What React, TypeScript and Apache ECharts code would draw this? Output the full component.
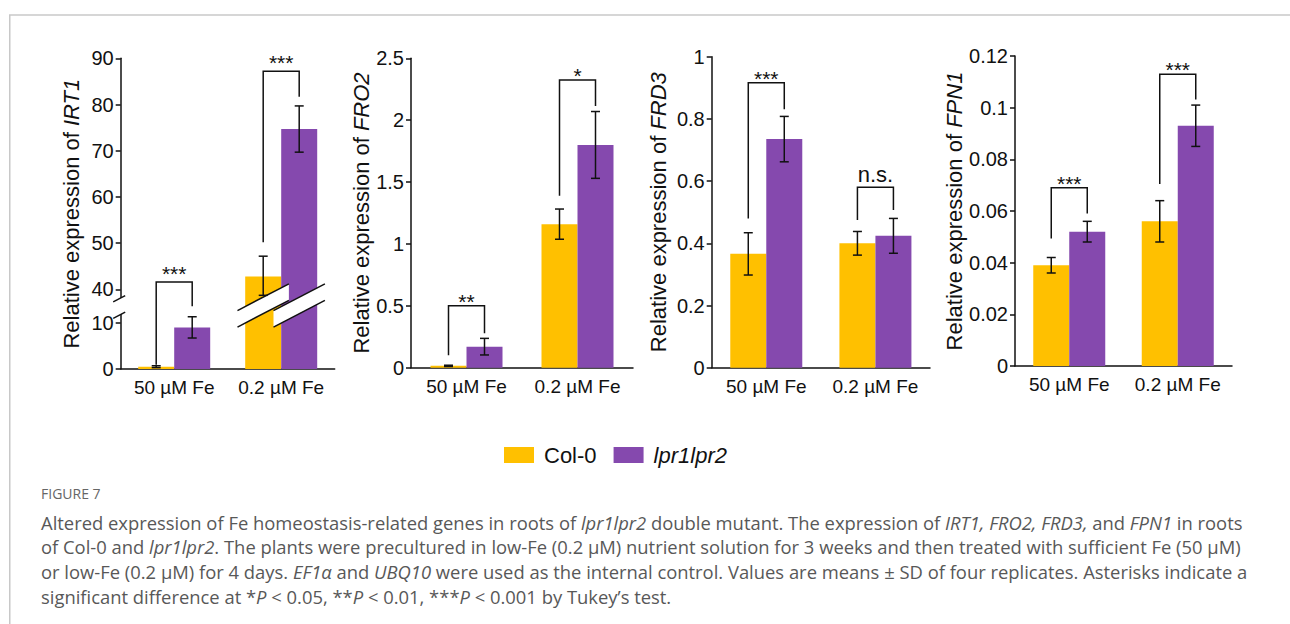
import React, { useEffect, useRef } from 'react';
import * as echarts from 'echarts';

// ---------------- data ----------------
const groups = ['50 µM Fe', '0.2 µM Fe'];
const genotypes = ['Col-0', 'lpr1lpr2'];

// IRT1
const irt1Col0 = [0.5, 42.8];
const irt1Col0Sd = [0.2, 4.4];
const irt1Lpr = [9.0, 74.7];
const irt1LprSd = [2.3, 5.0];
const irt1Sig = ['***', '***'];
const irt1BracketTop = [41.6, 87.2];
const irt1BracketLeft = [0.9, 50.2];
const irt1BracketRight = [24, 81.7];
const irt1Ticks = [0, 10, 40, 50, 60, 70, 80, 90];
const irt1BreakLow = 11.5;
const irt1BreakHigh = 38.8;

// FRO2
const fro2Col0 = [0.015, 1.16];
const fro2Col0Sd = [0.005, 0.122];
const fro2Lpr = [0.17, 1.8];
const fro2LprSd = [0.067, 0.27];
const fro2Sig = ['**', '*'];
const fro2BracketTop = [0.5, 2.325];
const fro2BracketLeft = [0.1, 1.39];
const fro2BracketRight = [0.278, 2.115];
const fro2Ticks = [0, 0.5, 1, 1.5, 2, 2.5];

// FRD3
const frd3Col0 = [0.366, 0.4];
const frd3Col0Sd = [0.068, 0.038];
const frd3Lpr = [0.735, 0.424];
const frd3LprSd = [0.073, 0.056];
const frd3Sig = ['***', 'n.s.'];
const frd3BracketTop = [0.916, 0.58];
const frd3BracketLeft = [0.48, 0.475];
const frd3BracketRight = [0.831, 0.507];
const frd3Ticks = [0, 0.2, 0.4, 0.6, 0.8, 1];

// FPN1
const fpn1Col0 = [0.039, 0.056];
const fpn1Col0Sd = [0.003, 0.008];
const fpn1Lpr = [0.052, 0.093];
const fpn1LprSd = [0.004, 0.008];
const fpn1Sig = ['***', '***'];
const fpn1BracketTop = [0.069, 0.1129];
const fpn1BracketLeft = [0.0494, 0.0705];
const fpn1BracketRight = [0.059, 0.1032];
const fpn1Ticks = [0, 0.02, 0.04, 0.06, 0.08, 0.1, 0.12];

const captionTitle = 'FIGURE 7';
const captionLines = [
  'Altered expression of Fe homeostasis-related genes in roots of {i|lpr1lpr2} double mutant. The expression of {i|IRT1, FRO2, FRD3,} and {i|FPN1} in roots',
  'of Col-0 and {i|lpr1lpr2}. The plants were precultured in low-Fe (0.2 μM) nutrient solution for 3 weeks and then treated with sufficient Fe (50 μM)',
  'or low-Fe (0.2 μM) for 4 days. {i|EF1α} and {i|UBQ10} were used as the internal control. Values are means ± SD of four replicates. Asterisks indicate a',
  'significant difference at *{i|P} < 0.05, **{i|P} < 0.01, ***{i|P} < 0.001 by Tukey’s test.',
];

// ---------------- styles ----------------
const FONT = '"Liberation Sans", Arial, Helvetica, sans-serif';
const CAP_FONT = '"Open Sans", "Noto Sans", sans-serif';
const CAP_SIZE = 18.4;
const CAP_INK = '#585858';
const INK = '#111111';
const YELLOW = '#FFC000';
const PURPLE = '#8549AE';
const BAR_W = 36;
const GAP_DISPLAY = 4.5; // visual size of the axis break, in display units

const irt1Offset = irt1BreakHigh - irt1BreakLow - GAP_DISPLAY;
const irt1ToDisplay = (v: number) =>
  v <= irt1BreakLow
    ? v
    : v >= irt1BreakHigh
    ? v - irt1Offset
    : irt1BreakLow + ((v - irt1BreakLow) * GAP_DISPLAY) / (irt1BreakHigh - irt1BreakLow);
const irt1FromDisplay = (d: number) =>
  d <= irt1BreakLow
    ? d
    : d >= irt1BreakLow + GAP_DISPLAY
    ? d + irt1Offset
    : irt1BreakLow + ((d - irt1BreakLow) * (irt1BreakHigh - irt1BreakLow)) / GAP_DISPLAY;
const ident = (v: number) => v;

const layouts = [
  { left: 120.7, top: 58.3, width: 214, height: 310.7, nameGap: 38, starLift: 8.6 },
  { left: 411, top: 58.3, width: 222, height: 309.4, nameGap: 38, starLift: 4.5 },
  { left: 711.7, top: 56.7, width: 218.3, height: 311, nameGap: 42, starLift: 4.5 },
  { left: 1015, top: 56, width: 217, height: 310, nameGap: 49, starLift: 4.5 },
];

const panels = [
  { gene: 'IRT1', col0: irt1Col0, col0Sd: irt1Col0Sd, lpr: irt1Lpr, lprSd: irt1LprSd, sig: irt1Sig, bTop: irt1BracketTop, bLeft: irt1BracketLeft, bRight: irt1BracketRight, ticks: irt1Ticks, map: irt1ToDisplay, unmap: irt1FromDisplay, broken: true },
  { gene: 'FRO2', col0: fro2Col0, col0Sd: fro2Col0Sd, lpr: fro2Lpr, lprSd: fro2LprSd, sig: fro2Sig, bTop: fro2BracketTop, bLeft: fro2BracketLeft, bRight: fro2BracketRight, ticks: fro2Ticks, map: ident, unmap: ident, broken: false },
  { gene: 'FRD3', col0: frd3Col0, col0Sd: frd3Col0Sd, lpr: frd3Lpr, lprSd: frd3LprSd, sig: frd3Sig, bTop: frd3BracketTop, bLeft: frd3BracketLeft, bRight: frd3BracketRight, ticks: frd3Ticks, map: ident, unmap: ident, broken: false },
  { gene: 'FPN1', col0: fpn1Col0, col0Sd: fpn1Col0Sd, lpr: fpn1Lpr, lprSd: fpn1LprSd, sig: fpn1Sig, bTop: fpn1BracketTop, bLeft: fpn1BracketLeft, bRight: fpn1BracketRight, ticks: fpn1Ticks, map: ident, unmap: ident, broken: false },
];

const lineStyle = { stroke: INK, lineWidth: 1.5 };

function buildOption() {
  const grid: any[] = [];
  const xAxis: any[] = [];
  const yAxis: any[] = [];
  const series: any[] = [];

  panels.forEach((p, i) => {
    const L = layouts[i];
    grid.push({ left: L.left, top: L.top, width: L.width, height: L.height, containLabel: false, outerBoundsMode: 'none' });
    xAxis.push({
      type: 'category',
      gridIndex: i,
      data: groups,
      axisLine: { show: true, lineStyle: { color: INK, width: 1.5 } },
      axisTick: { show: false },
      axisLabel: { fontSize: 19, color: INK, fontFamily: FONT, margin: 9, interval: 0 },
      splitLine: { show: false },
    });
    const tickVals = p.ticks.map(p.map);
    yAxis.push({
      type: 'value',
      gridIndex: i,
      min: tickVals[0],
      max: tickVals[tickVals.length - 1],
      name: 'Relative expression of {i|' + p.gene + '}',
      nameLocation: 'middle',
      nameRotate: 90,
      nameGap: L.nameGap,
      nameTextStyle: {
        fontSize: 22,
        fontFamily: FONT,
        color: INK,
        rich: { i: { fontSize: 22, fontFamily: FONT, color: INK, fontStyle: 'italic' } },
      },
      axisLine: { show: true, lineStyle: { color: INK, width: 1.5 } },
      axisTick: { show: true, length: 5, inside: false, lineStyle: { color: INK, width: 1.5 }, customValues: tickVals },
      axisLabel: {
        fontSize: 20,
        fontFamily: FONT,
        color: INK,
        margin: 7,
        customValues: tickVals,
        formatter: (v: number) => {
          const r = p.unmap(v);
          return String(parseFloat(r.toFixed(4)));
        },
      },
      splitLine: { show: false },
    });

    series.push({
      type: 'bar', name: genotypes[0], xAxisIndex: i, yAxisIndex: i,
      data: p.col0.map(p.map), barWidth: BAR_W, barGap: '0%',
      itemStyle: { color: YELLOW }, z: 2, silent: true,
    });
    series.push({
      type: 'bar', name: genotypes[1], xAxisIndex: i, yAxisIndex: i,
      data: p.lpr.map(p.map), barWidth: BAR_W, barGap: '0%',
      itemStyle: { color: PURPLE }, z: 2, silent: true,
    });

    if (p.broken) {
      const center = irt1BreakLow + GAP_DISPLAY / 2;
      series.push({
        type: 'custom', xAxisIndex: i, yAxisIndex: i, z: 3, silent: true,
        data: [[1, center]],
        encode: { x: 0, y: 1 },
        renderItem: (params: any, api: any) => {
          const c = api.coord([api.value(0), api.value(1)]);
          const k = -0.52;
          const h = 8.25;
          const children: any[] = [];
          const band = (xc: number, yc: number, x1: number, x2: number) => {
            const y = (x: number, off: number) => yc + off + k * (x - xc);
            children.push({
              type: 'polygon',
              shape: { points: [[x1, y(x1, -h)], [x2, y(x2, -h)], [x2, y(x2, h)], [x1, y(x1, h)]] },
              style: { fill: '#ffffff' },
            });
            children.push({ type: 'line', shape: { x1, y1: y(x1, -h), x2, y2: y(x2, -h) }, style: lineStyle });
            children.push({ type: 'line', shape: { x1, y1: y(x1, h), x2, y2: y(x2, h) }, style: lineStyle });
          };
          [-BAR_W / 2, BAR_W / 2].forEach((off) => {
            const xc = c[0] + off;
            band(xc, c[1], xc - BAR_W / 2 - 7.7, xc + BAR_W / 2 + 7.7);
          });
          const ax = params.coordSys.x;
          band(ax - 1.5, c[1] + 1.5, ax - 7.5, ax + 4.5);
          return { type: 'group', children };
        },
      });
    }

    const errData: number[][] = [];
    [0, 1].forEach((g) => {
      errData.push([g, p.map(p.col0[g] - p.col0Sd[g]), p.map(p.col0[g] + p.col0Sd[g]), 0]);
      errData.push([g, p.map(p.lpr[g] - p.lprSd[g]), p.map(p.lpr[g] + p.lprSd[g]), 1]);
    });
    series.push({
      type: 'custom', xAxisIndex: i, yAxisIndex: i, z: 5, silent: true,
      data: errData,
      encode: { x: 0, y: [1, 2] },
      renderItem: (params: any, api: any) => {
        const g = api.value(0);
        const s = api.value(3);
        const lo = api.coord([g, api.value(1)]);
        const hi = api.coord([g, api.value(2)]);
        const x = lo[0] + (s === 0 ? -BAR_W / 2 : BAR_W / 2);
        const cap = 4.5;
        return {
          type: 'group',
          children: [
            { type: 'line', shape: { x1: x, y1: lo[1], x2: x, y2: hi[1] }, style: lineStyle },
            { type: 'line', shape: { x1: x - cap, y1: lo[1], x2: x + cap, y2: lo[1] }, style: lineStyle },
            { type: 'line', shape: { x1: x - cap, y1: hi[1], x2: x + cap, y2: hi[1] }, style: lineStyle },
          ],
        };
      },
    });

    const brData = [0, 1].map((g) => [g, p.map(p.bTop[g]), p.map(p.bLeft[g]), p.map(p.bRight[g])]);
    series.push({
      type: 'custom', xAxisIndex: i, yAxisIndex: i, z: 5, silent: true,
      data: brData,
      encode: { x: 0, y: [1, 2, 3] },
      renderItem: (params: any, api: any) => {
        const g = api.value(0);
        const top = api.coord([g, api.value(1)]);
        const lb = api.coord([g, api.value(2)]);
        const rb = api.coord([g, api.value(3)]);
        const xl = top[0] - BAR_W / 2;
        const xr = top[0] + BAR_W / 2;
        const label = p.sig[params.dataIndex];
        const ns = label === 'n.s.';
        const lift = ns ? 12.5 : L.starLift;
        return {
          type: 'group',
          children: [
            {
              type: 'polyline',
              shape: { points: [[xl, lb[1]], [xl, top[1]], [xr, top[1]], [xr, rb[1]]] },
              style: { stroke: INK, lineWidth: 1.5, fill: null },
            },
            {
              type: 'text',
              x: top[0],
              y: top[1] - lift,
              style: {
                text: label,
                fill: INK,
                fontSize: ns ? 22 : 21,
                fontFamily: FONT,
                align: 'center',
                verticalAlign: 'middle',
              },
            },
          ],
        };
      },
    });
  });

  const capRich = {
    i: { fontStyle: 'italic', fontSize: CAP_SIZE, fontFamily: CAP_FONT, fill: CAP_INK, color: CAP_INK },
  };

  return {
    animation: false,
    backgroundColor: '#ffffff',
    grid,
    xAxis,
    yAxis,
    series,
    legend: {
      data: genotypes,
      left: 499,
      top: 439,
      icon: 'rect',
      itemWidth: 30,
      itemHeight: 16,
      itemGap: 17,
      selectedMode: false,
      formatter: (name: string) => (name === 'lpr1lpr2' ? '{i|lpr1lpr2}' : name),
      textStyle: {
        fontSize: 22,
        fontFamily: FONT,
        color: INK,
        padding: [0, 0, 0, 5],
        rich: { i: { fontSize: 22, fontFamily: FONT, color: INK, fontStyle: 'italic' } },
      },
    },
    graphic: {
      elements: [
        { type: 'line', silent: true, shape: { x1: 9.75, y1: 15, x2: 9.75, y2: 624 }, style: { stroke: '#c8c8c8', lineWidth: 1.5 } },
        { type: 'line', silent: true, shape: { x1: 9, y1: 15, x2: 1290, y2: 15 }, style: { stroke: '#c8c8c8', lineWidth: 1.5 } },
        {
          type: 'text', silent: true, x: 41, y: 493,
          style: { text: captionTitle, fontSize: 14, fontFamily: CAP_FONT, fill: '#666666', verticalAlign: 'middle' },
        },
        ...captionLines.map((t, k) => ({
          type: 'text',
          silent: true,
          x: 41,
          y: 522 + k * 24.7,
          style: {
            text: t,
            fontSize: CAP_SIZE,
            fontFamily: CAP_FONT,
            fill: CAP_INK,
            verticalAlign: 'middle',
            rich: capRich,
          },
        })),
      ],
    },
  };
}

export default function App() {
  const ref = useRef<HTMLDivElement>(null);
  useEffect(() => {
    const chart = echarts.init(ref.current!, undefined, { renderer: 'svg' });
    chart.setOption(buildOption() as any);
    return () => chart.dispose();
  }, []);
  return (
    <div
      ref={ref}
      style={{ position: 'absolute', left: 0, top: 0, width: 1290, height: 624, background: '#ffffff' }}
    />
  );
}
